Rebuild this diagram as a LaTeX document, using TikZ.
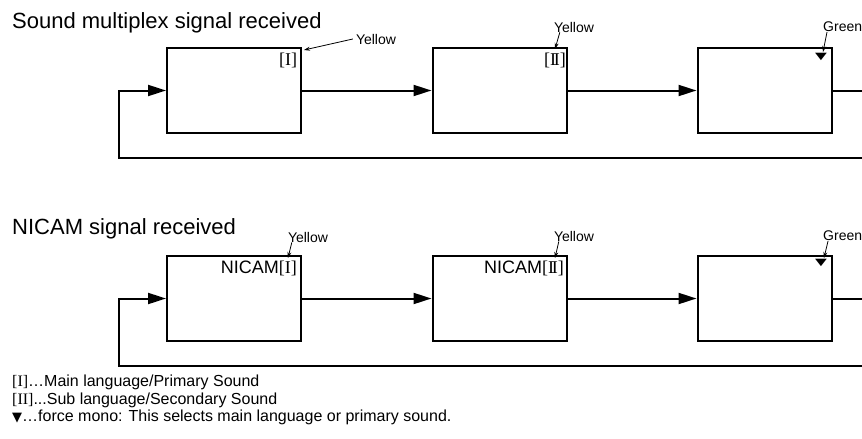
\documentclass[tikz,border=0pt]{standalone}
\usepackage{fontspec}
\setmainfont{Liberation Sans}
\newfontfamily\serifnum{Liberation Serif}
\newfontfamily\symfont{DejaVu Sans}
\usetikzlibrary{arrows.meta}

\begin{document}
\begin{tikzpicture}[
    x=1pt, y=-1pt,
    box/.style={
        draw,
        line width=2pt,
        minimum width=134pt,
        minimum height=85pt,
        inner sep=0pt
    },
    line/.style={line width=2pt},
    arr/.style={-{Triangle[length=18pt,width=11pt]}, line width=2pt},
    tag/.style={font=\fontsize{14}{16}\selectfont, inner sep=0pt},
    ptr/.style={-{Stealth[length=6pt,width=4pt]}, line width=0.8pt},
    sym/.style={font=\serifnum\fontsize{18}{18}\selectfont, inner sep=0pt},
    tri/.style={font=\symfont\fontsize{14}{14}\selectfont, inner sep=0pt},
    title/.style={font=\fontsize{22}{26}\selectfont, anchor=base west, inner sep=0pt},
    note/.style={font=\fontsize{16}{18}\selectfont, anchor=base west, inner sep=0pt}
]
    \useasboundingbox (0,0) rectangle (862,439);

    \node[title] (t1) at (12,28) {Sound multiplex signal received};
    \node[box] (a1) at (234,90.5) {};
    \node[box] (a2) at (499.5,90.5) {};
    \node[box] (a3) at (764.5,90.5) {};
    \node[sym] (m1) at (288,60) {[I]};
    \node[sym] (m2) at (555,60) {[I\kern-2.2pt I]};
    \node[tri] (m3) at (821,57) {\scalebox{1.1}[0.7]{▼}};

    \draw[arr] (a1) -- (a2);
    \draw[arr] (a2) -- (a3);
    \coordinate (r1) at (862,90.5);
    \coordinate (r2) at (862,157.5);
    \coordinate (l2) at (119,157.5);
    \coordinate (l1) at (119,90.5);
    \draw[line] (a3) -- (r1);
    \draw[arr] (r2) -- (l2) -- (l1) -- (a1);

    \node[tag] (y1) at (376,39) {Yellow};
    \node[tag] (y2) at (574,27) {Yellow};
    \node[tag, anchor=west] (g1) at (823,27) {Green};
    \coordinate (p1) at (304,50);
    \coordinate (p2) at (555,49);
    \coordinate (p3) at (823,52);
    \draw[ptr] ([xshift=-3pt]y1.west) -- (p1);
    \draw[ptr] ([xshift=6pt]y2.south west) -- (p2);
    \draw[ptr] ([xshift=4pt]g1.south west) -- (p3);

    \node[title] (t2) at (12,234) {NICAM signal received};
    \node[box] (b1) at (234,298.5) {};
    \node[box] (b2) at (499.5,298.5) {};
    \node[box] (b3) at (764.5,298.5) {};
    \node[font=\fontsize{18}{18}\selectfont, inner sep=0pt, anchor=east] (n1) at (297,268)
        {NICAM{\serifnum[I]}};
    \node[font=\fontsize{18}{18}\selectfont, inner sep=0pt, anchor=east] (n2) at (564,268)
        {NICAM{\serifnum[I\kern-2.2pt I]}};
    \node[tri] (n3) at (821,263) {\scalebox{1.1}[0.7]{▼}};

    \draw[arr] (b1) -- (b2);
    \draw[arr] (b2) -- (b3);
    \coordinate (r3) at (862,298.5);
    \coordinate (r4) at (862,365.5);
    \coordinate (l4) at (119,365.5);
    \coordinate (l3) at (119,298.5);
    \draw[line] (b3) -- (r3);
    \draw[arr] (r4) -- (l4) -- (l3) -- (b1);

    \node[tag] (y3) at (308,237) {Yellow};
    \node[tag] (y4) at (574,236) {Yellow};
    \node[tag, anchor=west] (g2) at (823,236) {Green};
    \coordinate (p4) at (288,258);
    \coordinate (p5) at (555,258);
    \coordinate (p6) at (824,258);
    \draw[ptr] ([xshift=4pt]y3.south west) -- (p4);
    \draw[ptr] ([xshift=5pt]y4.south west) -- (p5);
    \draw[ptr] ([xshift=5pt]g2.south west) -- (p6);

    \node[note] (k1) at (12,386) {{\serifnum[I]}…Main language/Primary Sound};
    \node[note] (k2) at (12,404) {{\serifnum[II]}...Sub language/Secondary Sound};
    \node[note] (k3) at (12,421)
        {{\symfont\fontsize{13}{16}\selectfont ▼}…force mono: This selects main language or primary sound.};
\end{tikzpicture}
\end{document}
